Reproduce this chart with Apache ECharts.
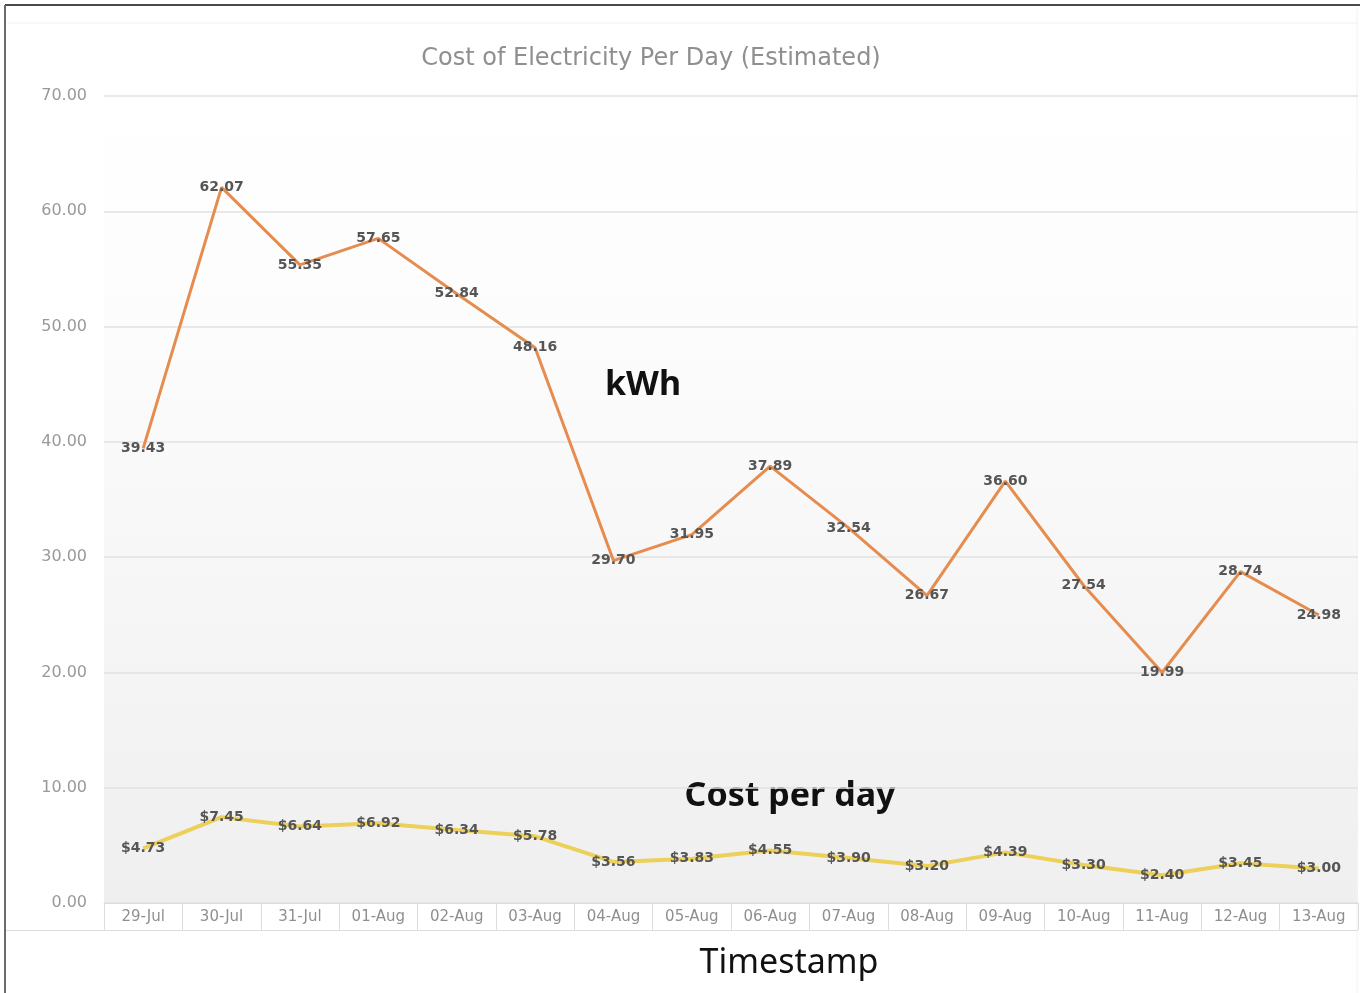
<!DOCTYPE html>
<html>
<head>
<meta charset="utf-8">
<script src="https://cdn.jsdelivr.net/npm/echarts@6/dist/echarts.min.js"></script>
<style>
html,body{margin:0;padding:0;background:#fff;}
#c{width:1364px;height:993px;}
</style>
</head>
<body>
<div id="c"></div>
<script>
const categories = ['29-Jul','30-Jul','31-Jul','01-Aug','02-Aug','03-Aug','04-Aug','05-Aug','06-Aug','07-Aug','08-Aug','09-Aug','10-Aug','11-Aug','12-Aug','13-Aug'];
const kwh = [39.43,62.07,55.35,57.65,52.84,48.16,29.70,31.95,37.89,32.54,26.67,36.60,27.54,19.99,28.74,24.98];
const cost = [4.73,7.45,6.64,6.92,6.34,5.78,3.56,3.83,4.55,3.90,3.20,4.39,3.30,2.40,3.45,3.00];
const yTicks = {min:0, max:70, interval:10};

const chart = echarts.init(document.getElementById('c'));
const labelStyle = {show:true, position:'inside', color:'#555', fontSize:14, fontWeight:'bold', fontFamily:'DejaVu Sans'};
chart.setOption({
  animation:false,
  backgroundColor:'#fff',
  title:{text:'Cost of Electricity Per Day (Estimated)', left:646, top:42, textAlign:'center',
    textStyle:{color:'#8f8f8f', fontSize:24, fontWeight:'normal', fontFamily:'DejaVu Sans'}},
  grid:{left:104, right:6, top:96, bottom:90, show:true, borderWidth:0,
    backgroundColor:{type:'linear',x:0,y:0,x2:0,y2:1,colorStops:[{offset:0,color:'#ffffff'},{offset:0.3,color:'#fcfcfc'},{offset:1,color:'#efefef'}]}},
  xAxis:{type:'category', data:categories, boundaryGap:true,
    axisLine:{show:true, lineStyle:{color:'#dcdcdc', width:1}},
    axisTick:{show:true, interval:0, length:27, lineStyle:{color:'#dcdcdc'}},
    axisLabel:{color:'#8f8f8f', fontSize:15, margin:7, fontFamily:'DejaVu Sans', interval:0}},
  yAxis:{type:'value', min:yTicks.min, max:yTicks.max, interval:yTicks.interval,
    axisLine:{show:false}, axisTick:{show:false},
    splitLine:{lineStyle:{color:'#e2e2e2', width:1.5}},
    axisLabel:{color:'#999', fontSize:16, margin:17, fontFamily:'DejaVu Sans', formatter:v=>v.toFixed(2)}},
  series:[
    {type:'line', data:kwh, symbol:'circle', symbolSize:1, itemStyle:{color:'rgba(0,0,0,0)'},
     lineStyle:{color:'#E58C4E', width:3},
     label:Object.assign({}, labelStyle, {formatter:p=>p.value.toFixed(2)})},
    {type:'line', data:cost, symbol:'circle', symbolSize:1, itemStyle:{color:'rgba(0,0,0,0)'},
     lineStyle:{color:'#EDD05A', width:4},
     label:Object.assign({}, labelStyle, {formatter:p=>'$'+p.value.toFixed(2)})}
  ],
  graphic:[
    {type:'line', shape:{x1:5,y1:5,x2:1360,y2:5}, style:{stroke:'#4a4a4a', lineWidth:2}},
    {type:'line', shape:{x1:5,y1:5,x2:5,y2:993}, style:{stroke:'#6a6a6a', lineWidth:2}},
    {type:'line', shape:{x1:7,y1:23,x2:1358,y2:23}, style:{stroke:'#f0f0f0', lineWidth:1}},
    {type:'line', shape:{x1:1357,y1:7,x2:1357,y2:993}, style:{stroke:'#f2f2f2', lineWidth:1}},
    {type:'line', shape:{x1:6,y1:930.5,x2:1358,y2:930.5}, style:{stroke:'#dcdcdc', lineWidth:1}},
    {type:'text', x:643, y:385, style:{text:'kWh', x:0, y:0, textAlign:'center', textVerticalAlign:'middle', fill:'#111', font:'bold 34px "Noto Sans"'}},
    {type:'text', x:790, y:796, style:{text:'Cost per day', x:0, y:0, textAlign:'center', textVerticalAlign:'middle', fill:'#111', font:'bold 34px "Noto Sans"'}},
    {type:'text', x:789, y:963, style:{text:'Timestamp', x:0, y:0, textAlign:'center', textVerticalAlign:'middle', fill:'#111', font:'normal 34px "Noto Sans"'}}
  ]
});
</script>
</body>
</html>
